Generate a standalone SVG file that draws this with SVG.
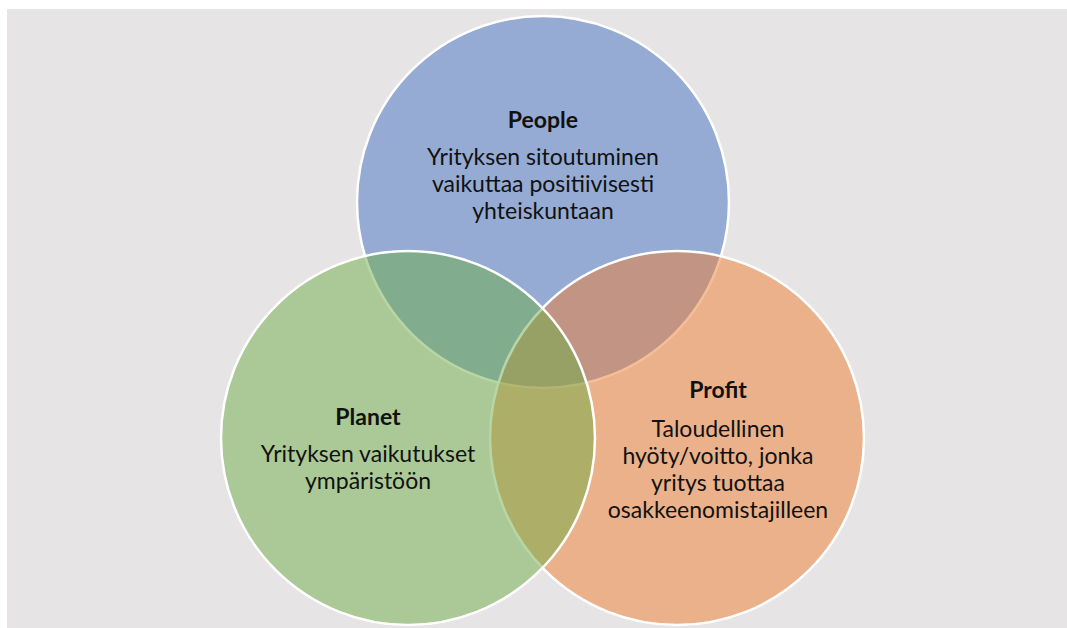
<svg xmlns="http://www.w3.org/2000/svg" width="1067" height="628" viewBox="0 0 1067 628">
<style>
.c{stroke:#ffffff;stroke-width:2.5}
.t{font-family:Lato,"Liberation Sans",sans-serif;font-size:23px;fill:#111111;text-anchor:middle}
.h{font-weight:bold}
</style>
<rect x="0" y="0" width="1067" height="628" fill="#ffffff"/>
<rect x="7" y="9" width="1060" height="619" fill="#e6e4e4"/>
<g id="people">
<circle class="c" cx="543" cy="202" r="186" fill="rgba(68,114,196,0.5)"/>
</g>
<g id="profit">
<circle class="c" cx="677" cy="438" r="187" fill="rgba(237,125,49,0.5)"/>
</g>
<g id="planet">
<circle class="c" cx="408" cy="438" r="187" fill="rgba(112,173,71,0.5)"/>
</g>
<g id="labels">
<text class="t h" x="543" y="128">People</text>
<text class="t" x="543" y="165">Yrityksen sitoutuminen</text>
<text class="t" x="543" y="192">vaikuttaa positiivisesti</text>
<text class="t" x="543" y="219">yhteiskuntaan</text>
<text class="t h" x="368" y="425">Planet</text>
<text class="t" x="368" y="462">Yrityksen vaikutukset</text>
<text class="t" x="368" y="489">ympäristöön</text>
<text class="t h" x="718" y="398">Profit</text>
<text class="t" x="718" y="437">Taloudellinen</text>
<text class="t" x="718" y="464">hyöty/voitto, jonka</text>
<text class="t" x="718" y="491">yritys tuottaa</text>
<text class="t" x="718" y="518">osakkeenomistajilleen</text>
</g>
</svg>
